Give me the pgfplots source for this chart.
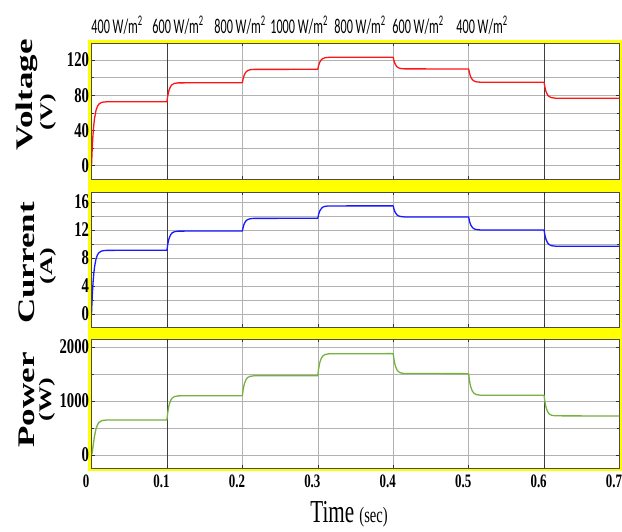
\documentclass[border=0pt]{standalone}
\usepackage{fontspec}
\setmainfont{Liberation Serif}
\newfontfamily\calfont{Carlito}
\usepackage{pgfplots}
\usepackage{pgfplotstable}
\pgfplotsset{compat=1.18}

\definecolor{vred}{RGB}{255,20,20}
\definecolor{iblue}{RGB}{25,25,255}
\definecolor{pgreen}{RGB}{118,178,64}
\definecolor{frameyellow}{RGB}{255,255,0}

% time (s), voltage (V), current (A), power (W)
\pgfplotstableread{
t      V      I      P
0.000  0.0    0.00   0
0.001  20.6   2.58   52
0.002  35.4   4.43   154
0.003  45.9   5.75   259
0.004  53.5   6.70   351
0.006  62.9   7.87   485
0.008  67.7   8.47   562
0.010  70.1   8.77   602
0.013  71.8   8.98   631
0.016  72.3   9.05   642
0.020  72.6   9.09   647
0.100  72.7   9.10   648
0.101  78.8   9.88   775
0.102  83.2   10.44  867
0.103  86.4   10.84  932
0.105  90.2   11.34  1013
0.107  92.2   11.59  1054
0.110  93.5   11.76  1082
0.115  94.1   11.84  1095
0.200  94.3   11.86  1098
0.201  98.6   12.37  1203
0.202  101.7  12.74  1279
0.203  103.9  13.00  1332
0.205  106.6  13.33  1399
0.207  108.0  13.49  1433
0.210  109.0  13.60  1456
0.215  109.4  13.66  1466
0.300  109.5  13.67  1469
0.301  113.4  14.17  1584
0.302  116.2  14.54  1668
0.303  118.2  14.79  1727
0.305  120.6  15.11  1800
0.307  121.9  15.28  1837
0.310  122.7  15.39  1862
0.315  123.1  15.44  1874
0.400  123.2  15.45  1877
0.401  119.4  15.00  1772
0.402  116.7  14.68  1696
0.403  114.8  14.45  1643
0.405  112.4  14.16  1576
0.407  111.2  14.01  1542
0.410  110.4  13.92  1519
0.415  110.0  13.87  1509
0.500  109.9  13.86  1506
0.501  105.6  13.33  1393
0.502  102.6  12.95  1311
0.503  100.4  12.68  1253
0.505  97.7   12.35  1181
0.507  96.3   12.18  1144
0.510  95.3   12.07  1119
0.515  94.9   12.01  1108
0.600  94.8   12.00  1105
0.601  89.6   11.34  997
0.602  85.9   10.87  918
0.603  83.3   10.53  863
0.605  80.0   10.11  794
0.607  78.4   9.90   759
0.610  77.3   9.75   736
0.615  76.7   9.69   725
0.700  76.6   9.67   722
}\pvdata

\pgfplotsset{
  panel/.style={
    scale only axis, width=528pt, xmin=0, xmax=0.7,
    anchor=south west,
    xtick={0,0.1,0.2,0.3,0.4,0.5,0.6,0.7},
    axis background/.style={fill=white},
    grid=both,
    major grid style={gray!60, line width=0.5pt},
    minor grid style={gray!60, line width=0.5pt},
    axis line style={black!70, line width=0.5pt},
    tick style={black!80, line width=0.5pt},
    major tick length=3pt, minor tick length=2pt,
    scaled y ticks=false,
    /pgf/number format/assume math mode=true,
    /pgf/number format/1000 sep={},
    yticklabel style={font=\fontsize{21}{21}\selectfont\bfseries, xscale=0.7},
    xticklabel style={font=\fontsize{19}{19}\selectfont\bfseries, xscale=0.68,
      xshift=-8pt, yshift=-3pt},
    extra x ticks={0.1,0.6},
    extra x tick labels={},
    extra x tick style={grid=major, major grid style={black!75, line width=0.6pt}},
    every axis plot/.append style={line width=1.3pt, line join=round},
  },
}

\begin{document}
\begin{tikzpicture}
\useasboundingbox (0,0) rectangle (622pt,532pt);
% yellow frame behind the three panels
\fill[frameyellow] (88pt,61pt) rectangle (622pt,492pt);

% voltage
\begin{axis}[panel, at={(91.5pt,353pt)}, height=136pt,
  ymin=-15.1, ymax=139.4,
  ytick={0,40,80,120}, minor ytick={20,60,100},
  xticklabels={}]
  \addplot[vred] table[x=t, y=V] {\pvdata};
\end{axis}

% current
\begin{axis}[panel, at={(91.5pt,205pt)}, height=135pt,
  ymin=-1.86, ymax=17.43,
  ytick={0,4,8,12,16}, minor ytick={2,6,10,14},
  xticklabels={}]
  \addplot[iblue] table[x=t, y=I] {\pvdata};
\end{axis}

% power
\begin{axis}[panel, at={(91.5pt,64pt)}, height=129pt,
  ymin=-241, ymax=2148,
  ytick={0,1000,2000}, minor ytick={500,1500},
  xticklabels={0,0.1,0.2,0.3,0.4,0.5,0.6,0.7}]
  \addplot[pgreen] table[x=t, y=P] {\pvdata};
\end{axis}

% quantity labels
\begin{scope}[every node/.style={rotate=90, yscale=0.68, inner sep=0pt}]
\node[font=\fontsize{35}{35}\selectfont\bfseries] at (27pt,437pt) {Voltage};
\node[font=\fontsize{26}{26}\selectfont\bfseries] at (48pt,420pt) {(V)};
\node[font=\fontsize{35}{35}\selectfont\bfseries] at (26.5pt,269pt) {Current};
\node[font=\fontsize{26}{26}\selectfont\bfseries] at (48pt,266pt) {(A)};
\node[font=\fontsize{35}{35}\selectfont\bfseries] at (26.5pt,132pt) {Power};
\node[font=\fontsize{26}{26}\selectfont\bfseries] at (47pt,132pt) {(W)};
\end{scope}

% irradiance levels
\begin{scope}[every node/.style={xscale=0.58, inner sep=0pt, font=\calfont\fontsize{21}{21}\selectfont}]
\node at (117pt,507pt) {400 W/m\textsuperscript{2}};
\node at (178pt,507pt) {600 W/m\textsuperscript{2}};
\node at (240pt,507pt) {800 W/m\textsuperscript{2}};
\node at (299pt,507pt) {1000 W/m\textsuperscript{2}};
\node at (360pt,507pt) {800 W/m\textsuperscript{2}};
\node at (418pt,507pt) {600 W/m\textsuperscript{2}};
\node at (482pt,507pt) {400 W/m\textsuperscript{2}};
\end{scope}

% time axis title
\node[anchor=base, xscale=0.66, inner sep=0pt] at (349pt,9pt)
  {{\fontsize{32}{32}\selectfont Time} {\fontsize{22}{22}\selectfont\ (sec)}};
\end{tikzpicture}
\end{document}
